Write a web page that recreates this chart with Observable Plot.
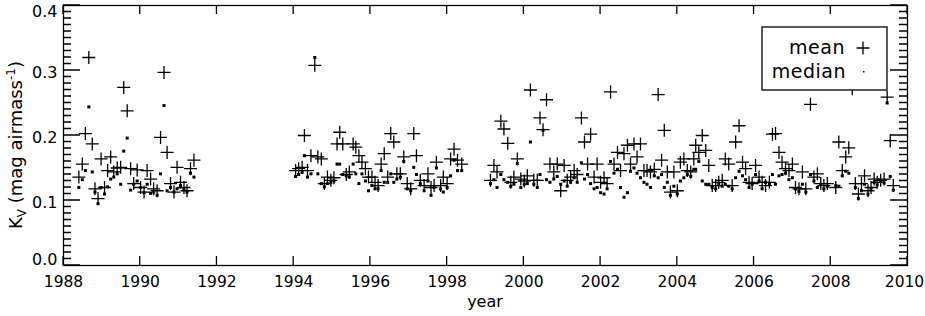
<!DOCTYPE html>
<html>
<head>
<meta charset="utf-8">
<script src="https://cdn.jsdelivr.net/npm/d3@7"></script>
<script src="https://cdn.jsdelivr.net/npm/@observablehq/plot@0.6"></script>
<style>
  html, body { margin: 0; padding: 0; background: #fff; }
  #chart svg { display: block; }
</style>
</head>
<body>
<div id="chart"></div>
<script>
// ---- data ----
const years = [
  1988.40,1988.49,1988.57,1988.66,1988.75,1988.82,1988.90,1988.98,1989.07,1989.15,1989.23,1989.31,1989.40,1989.49,1989.57,1989.66,1989.75,1989.83,1989.92,
  1990.01,1990.10,1990.18,1990.27,1990.35,1990.44,1990.53,1990.62,1990.70,1990.79,1990.88,1990.96,1991.05,1991.14,1991.22,1991.31,1991.40,
  1994.05,1994.13,1994.22,1994.28,1994.36,1994.45,1994.55,1994.63,1994.72,1994.80,1994.88,1994.97,1995.05,1995.13,1995.20,1995.28,1995.37,1995.45,
  1995.55,1995.62,1995.70,1995.78,1995.87,1995.95,1996.04,1996.12,1996.20,1996.28,1996.36,1996.45,1996.53,1996.61,1996.69,1996.78,1996.87,1996.96,
  1997.05,1997.13,1997.20,1997.30,1997.40,1997.50,1997.58,1997.66,1997.72,1997.83,1997.90,1998.00,1998.09,1998.18,1998.27,1998.38,
  1999.13,1999.22,1999.30,1999.40,1999.48,1999.58,1999.66,1999.74,1999.83,1999.92,2000.01,2000.09,2000.17,2000.26,2000.35,2000.42,2000.50,2000.59,
  2000.68,2000.78,2000.87,2000.96,2001.05,2001.13,2001.22,2001.31,2001.39,2001.50,2001.58,2001.66,2001.74,2001.83,2001.91,2002.00,2002.09,2002.17,
  2002.26,2002.35,2002.44,2002.52,2002.61,2002.70,2002.78,2002.87,2002.95,2003.04,2003.13,2003.21,2003.30,2003.40,2003.50,2003.59,2003.66,2003.74,
  2003.82,2003.91,2004.00,2004.08,2004.17,2004.26,2004.35,2004.43,2004.48,2004.56,2004.65,2004.74,2004.82,2004.91,2005.00,2005.08,2005.17,2005.25,
  2005.34,2005.43,2005.52,2005.61,2005.70,2005.78,2005.87,2005.95,2006.04,2006.13,2006.21,2006.30,2006.40,2006.48,2006.56,2006.65,2006.73,2006.82,
  2006.91,2007.00,2007.08,2007.17,2007.26,2007.35,2007.47,2007.56,2007.65,2007.74,2007.82,2007.91,2008.13,2008.21,2008.30,2008.39,2008.47,2008.56,
  2008.64,2008.72,2008.80,2008.88,2008.97,2009.05,2009.13,2009.21,2009.30,2009.39,2009.47,2009.55,2009.63
];
const meanK = [
  0.136,0.156,0.203,0.320,0.187,0.118,0.103,0.164,0.120,0.146,0.167,0.144,0.150,0.151,0.274,0.238,0.149,0.126,0.147,
  0.120,0.113,0.146,0.133,0.118,0.115,0.197,0.297,0.174,0.126,0.113,0.151,0.128,0.120,0.115,0.149,0.162,
  0.146,0.149,0.151,0.200,0.146,0.169,0.308,0.167,0.164,0.126,0.136,0.131,0.135,0.187,0.205,0.187,0.140,0.144,
  0.187,0.182,0.169,0.159,0.149,0.136,0.136,0.128,0.123,0.156,0.172,0.136,0.203,0.190,0.141,0.141,0.167,0.126,
  0.118,0.203,0.169,0.131,0.123,0.141,0.120,0.123,0.159,0.123,0.136,0.126,0.164,0.179,0.162,0.156,
  0.131,0.154,0.144,0.222,0.210,0.188,0.128,0.136,0.164,0.133,0.130,0.138,0.270,0.131,0.131,0.227,0.209,0.255,
  0.156,0.144,0.156,0.115,0.154,0.131,0.136,0.146,0.140,0.227,0.190,0.156,0.202,0.136,0.156,0.128,0.135,0.126,
  0.267,0.156,0.174,0.146,0.172,0.185,0.156,0.187,0.167,0.187,0.146,0.146,0.144,0.148,0.263,0.162,0.208,0.144,
  0.113,0.144,0.115,0.159,0.164,0.146,0.144,0.164,0.185,0.174,0.200,0.177,0.154,0.123,0.123,0.128,0.131,0.164,
  0.156,0.123,0.190,0.215,0.159,0.149,0.128,0.126,0.154,0.136,0.128,0.123,0.128,0.202,0.203,0.174,0.159,0.149,
  0.146,0.156,0.120,0.118,0.144,0.118,0.248,0.136,0.141,0.126,0.123,0.126,0.120,0.190,0.146,0.167,0.181,0.272,
  0.126,0.110,0.126,0.138,0.115,0.120,0.133,0.128,0.131,0.133,0.259,0.192,0.123
];
const medianK = [
  0.120,0.132,0.146,0.244,0.144,0.113,0.095,0.120,0.110,0.121,0.133,0.136,0.141,0.125,0.176,0.196,0.116,0.125,0.130,
  0.120,0.112,0.125,0.111,0.113,0.108,0.141,0.246,0.115,0.120,0.113,0.118,0.123,0.118,0.113,0.142,0.136,
  0.137,0.140,0.143,0.169,0.136,0.141,0.320,0.141,0.126,0.121,0.126,0.128,0.130,0.156,0.156,0.140,0.138,0.136,
  0.156,0.141,0.126,0.141,0.130,0.115,0.123,0.118,0.118,0.146,0.128,0.128,0.141,0.128,0.133,0.136,0.160,0.118,
  0.115,0.151,0.140,0.126,0.115,0.130,0.108,0.120,0.150,0.118,0.113,0.120,0.138,0.162,0.146,0.146,
  0.126,0.132,0.120,0.140,0.132,0.128,0.122,0.125,0.157,0.120,0.125,0.126,0.190,0.125,0.120,0.140,0.208,0.132,
  0.128,0.133,0.137,0.125,0.130,0.122,0.128,0.135,0.128,0.158,0.133,0.140,0.126,0.118,0.120,0.112,0.110,0.118,
  0.160,0.142,0.148,0.120,0.105,0.112,0.145,0.150,0.142,0.135,0.128,0.125,0.120,0.138,0.135,0.140,0.120,0.128,
  0.108,0.122,0.110,0.130,0.135,0.140,0.137,0.148,0.148,0.160,0.130,0.125,0.125,0.120,0.118,0.125,0.122,0.125,
  0.122,0.118,0.135,0.145,0.138,0.132,0.120,0.125,0.140,0.130,0.118,0.128,0.126,0.140,0.125,0.138,0.140,0.142,
  0.132,0.135,0.118,0.114,0.125,0.113,0.140,0.130,0.120,0.125,0.118,0.122,0.123,0.122,0.138,0.145,0.142,0.281,
  0.120,0.103,0.115,0.125,0.110,0.118,0.128,0.124,0.129,0.127,0.250,0.137,0.116
];
const xTickYears = [1988,1990,1992,1994,1996,1998,2000,2002,2004,2006,2008,2010];
const yMajorTicks = [0.0,0.1,0.2,0.3,0.4];
const yMinorTicks = d3.range(0, 41).map(i => i / 100);
const legendLabels = ["mean", "median"];
const yLabelMain = "K", yLabelSub = "V", yLabelRest = " (mag airmass", yLabelSup = "-1", yLabelEnd = ")";
const xLabel = "year";

// ---- layout ----
const W = 925, H = 316;
const mL = 63, mR = 18, mT = 5, mB = 51;
const xDomain = [1988, 2010], yDomain = [0, 0.4];
const FONT = "DejaVu Sans, sans-serif";

const data = years.map((t, i) => ({t, mean: meanK[i], median: medianK[i]}));

const plusSym = {
  draw(ctx, size) {
    const r = Math.sqrt(size / Math.PI);
    ctx.moveTo(-r, 0); ctx.lineTo(r, 0);
    ctx.moveTo(0, -r); ctx.lineTo(0, r);
  }
};

const chart = Plot.plot({
  width: W, height: H,
  marginLeft: mL, marginRight: mR, marginTop: mT, marginBottom: mB,
  style: {fontFamily: FONT, fontSize: "16px", color: "black", background: "white"},
  x: {domain: xDomain, label: null},
  y: {domain: yDomain, label: null},
  marks: [
    Plot.axisY(yMajorTicks.slice(1, 4), {tickSize: 0, tickPadding: 6, dy: 2, tickFormat: d3.format(".1f"), fontSize: 16}),
    Plot.axisY([yMajorTicks[0]], {tickSize: 0, tickPadding: 6, dy: -6, tickFormat: d3.format(".1f"), fontSize: 16}),
    Plot.axisY([yMajorTicks[4]], {tickSize: 0, tickPadding: 6, dy: 6, tickFormat: d3.format(".1f"), fontSize: 16}),
    Plot.axisX(xTickYears.slice(0, -1), {tickSize: 0, tickPadding: 10, tickFormat: d => String(d), fontSize: 15.5}),
    Plot.axisX(xTickYears.slice(-1), {tickSize: 0, tickPadding: 10, dx: -3, tickFormat: d => String(d), fontSize: 15.5}),
    Plot.frame({stroke: "black", strokeWidth: 1.3}),
    Plot.dot(data, {x: "t", y: "median", symbol: "square", r: 1.7, fill: "black", stroke: "none"}),
    Plot.dot(data, {x: "t", y: "mean", symbol: plusSym, r: 6.5, fill: "none", stroke: "black", strokeWidth: 1.3})
  ]
});

const svg = d3.select(chart);
const sx = chart.scale("x"), sy = chart.scale("y");
const x0 = sx.apply(xDomain[0]), x1 = sx.apply(xDomain[1]);
const y0 = sy.apply(yDomain[0]), y1 = sy.apply(yDomain[1]);
const majorLen = 17, minorLen = 8, xTickLen = 9;

// inward ticks on all four sides, placed with Plot's own scales
const tickPath = [];
for (const v of yMinorTicks) {
  const L = yMajorTicks.some(m => Math.abs(m - v) < 1e-9) ? majorLen : minorLen;
  const y = sy.apply(v);
  tickPath.push(`M${x0},${y}h${L}`, `M${x1},${y}h${-L}`);
}
for (const v of xTickYears) {
  const x = sx.apply(v);
  tickPath.push(`M${x},${y0}v${-xTickLen}`, `M${x},${y1}v${xTickLen}`);
}
svg.append("path").attr("d", tickPath.join(""))
  .attr("stroke", "black").attr("stroke-width", 1.3).attr("fill", "none");

const plotH = y0 - y1, plotW = x1 - x0;

// x axis title
svg.append("text")
  .attr("x", x0 + plotW / 2).attr("y", 307)
  .attr("text-anchor", "middle")
  .attr("font-family", FONT).attr("font-size", 16)
  .text(xLabel);

// y axis title with sub/superscript
const yt = svg.append("text")
  .attr("transform", `translate(22,${y1 + plotH / 2 + 10}) rotate(-90)`)
  .attr("text-anchor", "middle")
  .attr("font-family", FONT).attr("font-size", 18);
yt.append("tspan").text(yLabelMain);
yt.append("tspan").attr("font-size", 12).attr("dy", 4).text(yLabelSub);
yt.append("tspan").attr("dy", -4).text(yLabelRest);
yt.append("tspan").attr("font-size", 12).attr("dy", -7).text(yLabelSup);
yt.append("tspan").attr("dy", 7).text(yLabelEnd);

// legend box
const lg = svg.append("g").attr("font-family", FONT).attr("font-size", 19).attr("letter-spacing", 0.5);
lg.append("rect").attr("x", 762).attr("y", 27).attr("width", 125).attr("height", 63)
  .attr("fill", "white").attr("stroke", "black").attr("stroke-width", 1.3);
lg.append("text").attr("x", 845).attr("y", 54).attr("text-anchor", "end").text(legendLabels[0]);
lg.append("text").attr("x", 846).attr("y", 78).attr("text-anchor", "end").text(legendLabels[1]);
lg.append("path").attr("d", "M856.5,48H869.5M863,41.5V54.5").attr("stroke", "black").attr("stroke-width", 1.3);
lg.append("rect").attr("x", 863).attr("y", 71).attr("width", 1.5).attr("height", 1.5).attr("fill", "black");

document.getElementById("chart").appendChild(chart);
</script>
</body>
</html>
